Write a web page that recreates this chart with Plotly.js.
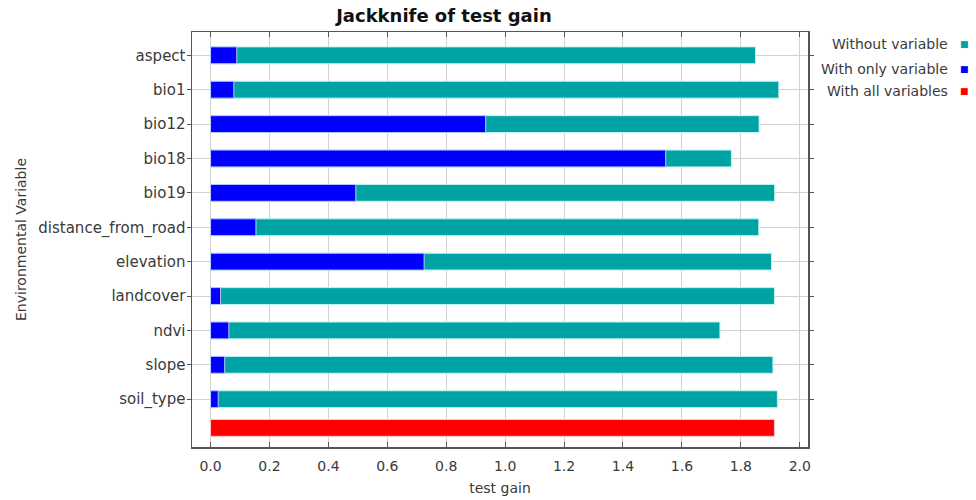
<!DOCTYPE html>
<html>
<head>
<meta charset="utf-8">
<script src="https://cdn.plot.ly/plotly-3.0.1.min.js"></script>
<style>html,body{margin:0;padding:0;background:#fff;}#chart{width:976px;height:500px;}</style>
</head>
<body>
<div id="chart"></div>
<script>
// ---- data ----
var variables = ["aspect","bio1","bio12","bio18","bio19","distance_from_road","elevation","landcover","ndvi","slope","soil_type"];
var withoutVariable = [1.850,1.929,1.862,1.768,1.915,1.861,1.904,1.914,1.729,1.909,1.924];
var withOnlyVariable = [0.089,0.079,0.934,1.545,0.493,0.154,0.725,0.034,0.062,0.048,0.026];
var allVariablesLabel = "all variables";
var withAllVariables = [1.914];
var seriesNames = ["Without variable","With only variable","With all variables"];
var seriesColors = ["#00a3a3","#0000ff","#ff0000"];
var xTickVals = [0,0.2,0.4,0.6,0.8,1.0,1.2,1.4,1.6,1.8,2.0];

var barWidth = 0.49;
var fontFam = "DejaVu Sans, Liberation Sans, Arial, sans-serif";
var tickFont = {family:fontFam, size:14, color:"#3a3a3a"};
var yTickFont = {family:fontFam, size:15, color:"#3a3a3a"};

var traces = [
  {type:"bar", orientation:"h", name:seriesNames[0], y:variables, x:withoutVariable,
   width:barWidth, marker:{color:seriesColors[0], line:{color:"#bff4f4", width:1}}, showlegend:false, hoverinfo:"x+y"},
  {type:"bar", orientation:"h", name:seriesNames[1], y:variables, x:withOnlyVariable,
   width:barWidth, marker:{color:seriesColors[1], line:{color:"#b8c8ff", width:1}}, showlegend:false, hoverinfo:"x+y"},
  {type:"bar", orientation:"h", name:seriesNames[2], y:[allVariablesLabel], x:withAllVariables,
   width:barWidth, offset:-0.41, marker:{color:seriesColors[2], line:{color:"#ffc8c8", width:1}}, showlegend:false, hoverinfo:"x"}
];

var legendY = [0.970, 0.911, 0.857];
var annotations = [];
for (var i = 0; i < seriesNames.length; i++) {
  annotations.push({xref:"paper", yref:"paper", x:1.2305, y:legendY[i], xanchor:"right", yanchor:"middle",
    text:seriesNames[i], showarrow:false, font:{family:fontFam, size:14, color:"#3a3a3a"}});
  annotations.push({xref:"paper", yref:"paper", x:1.2545, y:legendY[i], xanchor:"center", yanchor:"middle",
    text:"■", showarrow:false, font:{family:"DejaVu Sans, sans-serif", size:9, color:seriesColors[i]}});
}

var layout = {
  width:976, height:500,
  margin:{l:192, r:168, t:32, b:53, pad:0},
  paper_bgcolor:"#ffffff", plot_bgcolor:"#ffffff",
  barmode:"overlay",
  bargap:0,
  title:{text:"<b>Jackknife of test gain</b>", x:0.409, xref:"paper", xanchor:"center", y:0.968, yref:"container", yanchor:"middle",
    font:{family:fontFam, size:18, color:"#111"}},
  xaxis:{range:[-0.063,2.028], tickvals:xTickVals, tickformat:".1f", showgrid:true, gridcolor:"#d2d2d2", gridwidth:1,
    zeroline:false, showline:true, linecolor:"#555", linewidth:1.5, mirror:"ticks", ticks:"inside", ticklen:5, tickcolor:"#555",
    ticklabelstandoff:6,
    tickfont:tickFont, title:{text:"test gain", font:tickFont, standoff:10}},
  yaxis:{type:"category", categoryorder:"array", categoryarray:variables.concat([allVariablesLabel]),
    range:[11.39,-0.678], tickvals:variables, showgrid:true, gridcolor:"#d2d2d2", gridwidth:1,
    zeroline:false, showline:true, linecolor:"#555", linewidth:1.5, mirror:"ticks", ticks:"outside", ticklen:4, tickcolor:"#555",
    ticklabelstandoff:-2,
    tickfont:yTickFont, title:{text:"Environmental Variable", font:tickFont, standoff:8}},
  annotations:annotations
};

Plotly.newPlot("chart", traces, layout, {displayModeBar:false, staticPlot:true});
</script>
</body>
</html>
